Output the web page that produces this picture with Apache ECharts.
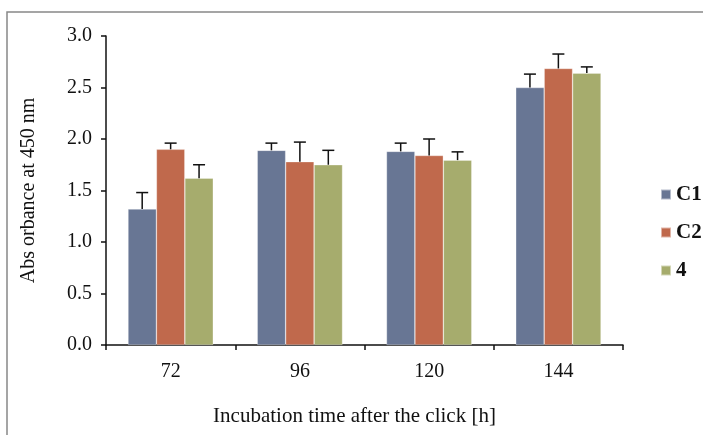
<!DOCTYPE html>
<html><head><meta charset="utf-8">
<script src="https://cdn.jsdelivr.net/npm/echarts@6/dist/echarts.min.js"></script>
<style>html,body{margin:0;padding:0;background:#fff}#c{width:703px;height:435px}</style>
</head><body><div id="c"></div>
<script>
const categories = ['72', '96', '120', '144'];
const seriesNames = ['C1', 'C2', '4'];
const c1Values = [1.32, 1.89, 1.88, 2.50];
const c2Values = [1.90, 1.78, 1.84, 2.685];
const s4Values = [1.62, 1.75, 1.795, 2.64];
const c1Errors = [0.16, 0.07, 0.08, 0.13];
const c2Errors = [0.06, 0.19, 0.16, 0.14];
const s4Errors = [0.13, 0.14, 0.08, 0.06];
const yTicks = [0, 0.5, 1.0, 1.5, 2.0, 2.5, 3.0];
const colors = ['#687694', '#C0694C', '#A6AC6D'];

const values = [c1Values, c2Values, s4Values];
const errors = [c1Errors, c2Errors, s4Errors];
const GAP = 0.34;
const font = 'Liberation Serif';

const chart = echarts.init(document.getElementById('c'));
const series = [];
values.forEach((v, i) => {
  series.push({
    name: seriesNames[i], type: 'bar', data: v,
    barGap: '0%', barCategoryGap: (GAP * 100) + '%',
    itemStyle: { color: colors[i], borderColor: 'rgba(255,255,255,0.5)', borderWidth: 0.6 },
    z: 2
  });
});
values.forEach((v, i) => {
  series.push({
    type: 'custom', silent: true, z: 3,
    data: v.map((val, k) => [k, val, val + errors[i][k]]),
    renderItem: function (params, api) {
      const band = api.size([1, 0])[0];
      const bw = band * (1 - GAP) / 3;
      const off = (i - 1) * bw;
      const base = api.coord([api.value(0), api.value(1)]);
      const top = api.coord([api.value(0), api.value(2)]);
      const x = base[0] + off;
      const cap = 6;
      return {
        type: 'group',
        children: [
          { type: 'line', shape: { x1: x, y1: base[1], x2: x, y2: top[1] }, style: { stroke: '#111', lineWidth: 1.5 } },
          { type: 'line', shape: { x1: x - cap, y1: top[1], x2: x + cap, y2: top[1] }, style: { stroke: '#111', lineWidth: 1.5 } }
        ]
      };
    }
  });
});

chart.setOption({
  animation: false,
  textStyle: { fontFamily: font },
  graphic: [{ type: 'rect', shape: { x: 7, y: 12, width: 720, height: 450 }, style: { fill: 'none', stroke: '#888', lineWidth: 1.5 }, silent: true }],
  grid: { left: 106, right: 80, top: 36, bottom: 90 },
  legend: {
    data: seriesNames, orient: 'vertical', left: 660, top: 184, itemGap: 17, padding: 0,
    itemWidth: 10, itemHeight: 10, icon: 'rect',
    textStyle: { fontFamily: font, fontSize: 21, fontWeight: 'bold', color: '#111' }
  },
  xAxis: {
    type: 'category', data: categories,
    name: 'Incubation time after the click [h]', nameLocation: 'middle', nameGap: 61,
    nameTextStyle: { fontFamily: font, fontSize: 21, color: '#111', padding: [0, 20, 0, 0] },
    axisLine: { lineStyle: { color: '#111', width: 1.5 } },
    axisTick: { show: true, length: 5, lineStyle: { color: '#111', width: 1.5 } },
    axisLabel: { fontFamily: font, fontSize: 20, color: '#111', margin: 17 }
  },
  yAxis: {
    type: 'value', min: 0, max: 3, interval: 0.5,
    name: 'Abs orbance at 450 nm', nameLocation: 'middle', nameGap: 67,
    nameTextStyle: { fontFamily: font, fontSize: 20, color: '#111' },
    axisLine: { show: true, lineStyle: { color: '#111', width: 1.5 } },
    axisTick: { show: true, length: 5, lineStyle: { color: '#111', width: 1.5 } },
    splitLine: { show: false },
    axisLabel: { fontFamily: font, fontSize: 20, color: '#111', margin: 14,
      formatter: v => yTicks.includes(v) ? v.toFixed(1) : '' }
  },
  series: series
});
</script></body></html>
